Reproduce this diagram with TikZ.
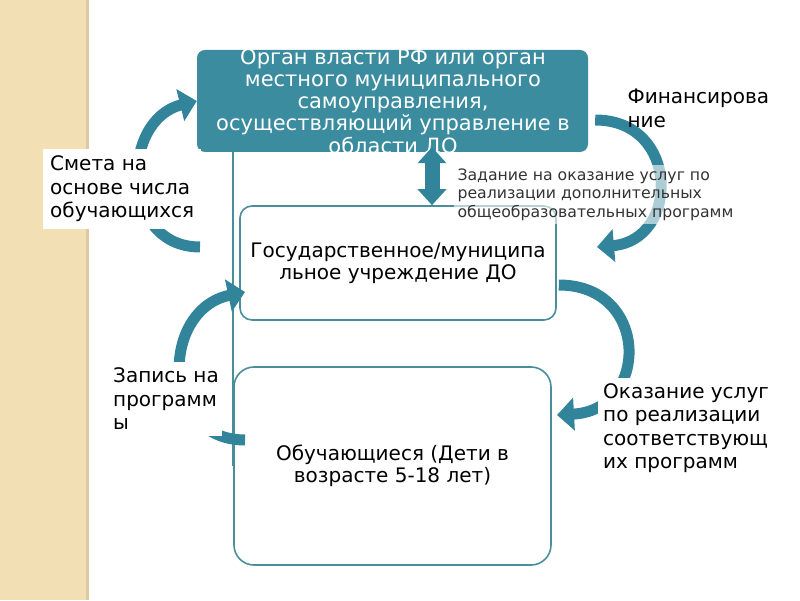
\documentclass[tikz,border=0pt]{standalone}
\usepackage{fontspec}
\setmainfont{DejaVu Sans}
\usetikzlibrary{arrows.meta}
\definecolor{sand}{HTML}{F2E0B4}
\definecolor{sandedge}{HTML}{DCCBA2}
\definecolor{boxteal}{HTML}{3A8C9E}
\definecolor{arrowteal}{HTML}{31849A}
\definecolor{lineteal}{HTML}{4A8E9C}

\begin{document}
\begin{tikzpicture}[x=1pt,y=1pt,
	topbox/.style={fill=boxteal, rounded corners=8pt, minimum width=391pt, minimum height=102pt, inner sep=0pt},
	midbox/.style={draw=lineteal, line width=1.6pt, fill=white, rounded corners=12pt, minimum width=316pt, minimum height=114pt, align=center, font=\fontsize{20}{22}\selectfont},
	bigarrow/.style={draw=arrowteal, line width=11pt, -{Triangle[width=32pt,length=17pt]}},
	note/.style={align=left, anchor=west, font=\fontsize{20}{23.5}\selectfont}]
	\useasboundingbox (0,0) rectangle (800,600);

	% Side strip
	\fill[sand] (0,0) rectangle (86,600);
	\fill[sandedge] (86,0) rectangle (89,600);

	% Boxes
	\node[topbox] (organ) at (392.5,499) {};
	\node[align=center, text=white, font=\fontsize{21}{22.3}\selectfont] (organtext) at (393,497.5)
	{Орган власти РФ или орган\\местного муниципального\\самоуправления,\\осуществляющий управление в\\области ДО};
	\node[midbox] (uchr) at (398,337) {Государственное/муниципа\\льное учреждение ДО};
	\node[midbox, minimum width=317pt, minimum height=198pt, rounded corners=20pt] (obuch) at (392.5,134) {Обучающиеся (Дети в\\возрасте 5-18 лет)};
	\draw[lineteal, line width=1.6pt] (organ.south -| obuch.west) -- (obuch.west);

	% Double arrow
	\coordinate (dx) at (432,0);
	\draw[arrowteal, line width=15pt, {Triangle[width=28pt,length=16pt]}-{Triangle[width=28pt,length=16pt]}, shorten <=-5pt]
	(organ.south -| dx) -- (uchr.north -| dx);

	% Curved arrows
	\coordinate (smetatail) at (200,353);
	\coordinate (finhead) at (597,353);
	\coordinate (okazhead) at (557,185);
	\coordinate (zapistail) at (245,160);
	\coordinate (zapishead) at (245,308);
	\draw[bigarrow] (smetatail) .. controls (120,353) and (120,480) .. (organ.west);
	\draw[bigarrow] ([shift={(7,-19)}]organ.east) .. controls (680,480) and (680,360) .. (finhead);
	\draw[bigarrow] ([shift={(2,-22)}]uchr.east) .. controls (650,315) and (650,190) .. (okazhead);
	\draw[bigarrow] (zapistail) .. controls (160,160) and (160,290) .. (zapishead);

	% Labels
	\node[note, fill=white, inner sep=7pt] (smeta) at (43,411) {Смета на\\основе числа\\обучающихся};
	\node[note] (fin) at (624,491.5) {Финансирова\\ние};
	\node[note, text=black!80, font=\fontsize{15.7}{18.5}\selectfont, fill=white, fill opacity=0.6, text opacity=1] (zadanie) at (454,405.5)
	{Задание на оказание услуг по\\реализации дополнительных\\общеобразовательных программ};
	\node[note, fill=white, inner xsep=3pt, inner ysep=6pt] (zapis) at (110,201) {Запись на\\программ\\ы};
	\node[note, fill=white, inner sep=5pt] (okaz) at (598,172) {Оказание услуг\\по реализации\\соответствующ\\их программ};
\end{tikzpicture}
\end{document}
